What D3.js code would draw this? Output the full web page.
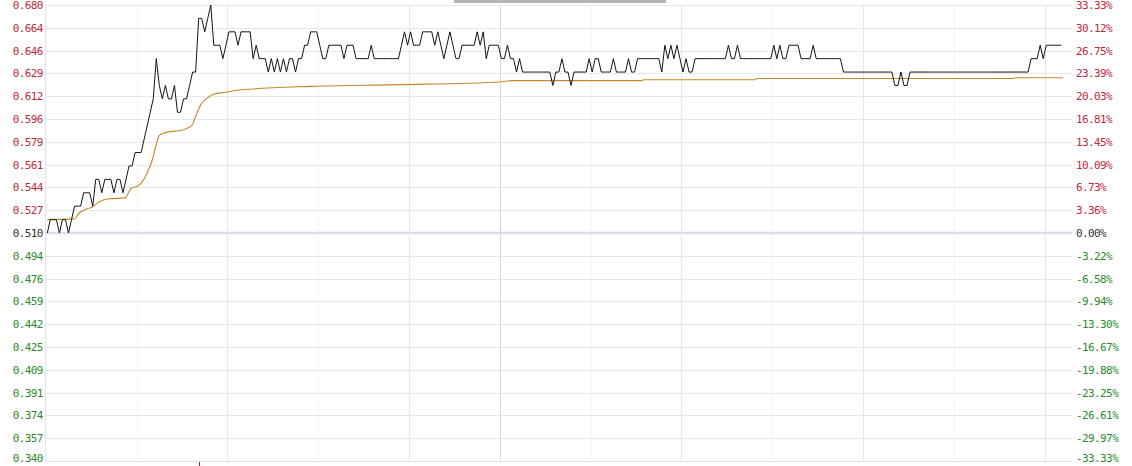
<!DOCTYPE html>
<html><head><meta charset="utf-8">
<script src="https://cdn.jsdelivr.net/npm/d3@7/dist/d3.min.js"></script>
<style>html,body{margin:0;padding:0;background:#fff;overflow:hidden}</style>
</head><body><svg id="c" width="1132" height="466"></svg>
<script>
// ---- data ----
const prevClose = 0.51;
// minute prices (index = minute of the session)
const prices = [
 0.51,0.52,0.52,0.52,0.51,0.52,0.52,0.51,0.52,0.53,0.53,0.53,0.54,0.54,0.54,0.53,0.55,0.55,0.54,0.55,
 0.55,0.55,0.54,0.55,0.55,0.54,0.55,0.56,0.56,0.57,0.57,0.57,0.58,0.59,0.60,0.61,
 0.64,0.62,0.61,0.62,0.61,0.61,0.62,0.60,0.60,0.61,0.61,0.62,0.63,0.63,0.67,0.67,0.66,0.67,0.68,0.65,0.65,0.65,0.64,0.65,
 0.66,0.66,0.66,0.65,0.66,0.66,0.66,0.66,0.64,0.65, 0.64,0.64,0.64,0.63,0.64,0.63,0.64,0.63,0.64,0.63,
 0.64,0.64,0.63,0.64,0.64,0.65,0.65,0.66,0.66,0.66, 0.65,0.64,0.64,0.65,0.65,0.65,0.65,0.65,0.64,0.65,
 0.65,0.65,0.64,0.64,0.64,0.64,0.64,0.65,0.64,0.64, 0.64,0.64,0.64,0.64,0.64,0.64,0.64,0.65,0.66,0.65,
 0.66,0.65,0.65,0.65,0.66,0.66,0.66,0.66,0.65,0.66, 0.65,0.64,0.65,0.66,0.65,0.64,0.64,0.65,0.65,0.65,
 0.65,0.65,0.66,0.65,0.66,0.64,0.65,0.65,0.65,0.65, 0.64,0.64,
 0.65,0.64,0.64,0.63,0.64,0.63,0.63,0.63,0.63,0.63,0.63,0.63,0.63,0.63,0.63,
 0.62,0.63,0.63,0.64,0.63,0.63,0.62,0.63,0.63,0.63, 0.63,0.63,0.64,0.63,0.64,0.64,0.63,0.63,0.63,0.63,
 0.64,0.63,0.63,0.63,0.63,0.64,0.63,0.63,0.64,0.64, 0.64,0.64,0.64,0.64,0.64,0.64,0.63,0.65,0.64,0.65,
 0.64,0.65,0.64,0.63,0.64,0.63,0.63,0.64,0.64,0.64, 0.64,0.64,0.64,0.64,0.64,0.64,0.64,
 0.64,0.65,0.64,0.64,0.65,0.64,0.64,0.64,0.64,0.64, 0.64,0.64,0.64,0.64,0.64,0.64,0.65,0.64,0.65,0.64,
 0.64,0.65,0.65,0.65,0.65,0.64,0.64,0.64,0.64,0.65, 0.64,0.64,0.64,0.64,0.64,0.64,0.64,0.64,0.64,0.63,
 0.63,0.63,0.63,0.63,0.63,0.63,0.63,0.63, 0.63,0.63,0.63,0.63,0.63,0.63,0.63,0.63,
 0.62,0.62,0.63,0.62,0.62,0.63,
 0.63,0.63,0.63,0.63,0.63,0.63,0.63,0.63, 0.63,0.63,0.63,0.63,0.63,0.63,0.63,0.63,
 0.63,0.63,0.63,0.63,0.63,0.63,0.63,0.63, 0.63,0.63,0.63,0.63,0.63,0.63,0.63,0.63,
 0.63,0.63,0.63,0.63,0.63,0.63,
 0.63,0.64,0.64,0.64,0.65,0.64,0.65,0.65,0.65,0.65,0.65,0.65
];
// average price line, read at these minutes
const avgT = [0,8.8,10.5,12.1,14.9,17.1,19.3,21.5,25.9,27,28.1,29.7,31.4,33,34.7,35.8,36.9,38.5,40.8,43.5,46.3,47.9,49,50.7,52.9,55.1,58.4,61.7,68,86.8,115.5,149.6,153.4,196.4,197,233.8,234.4,319.1,320.2,335.6];
const avgV = [0.5200,0.5205,0.5249,0.5272,0.5294,0.5332,0.5352,0.5356,0.5364,0.5409,0.5439,0.5446,0.5483,0.5548,0.5646,0.5745,0.5825,0.5845,0.5857,0.5862,0.5882,0.5907,0.5969,0.6057,0.6107,0.6136,0.6148,0.6161,0.6174,0.6193,0.6206,0.6226,0.6236,0.6236,0.6243,0.6243,0.6252,0.6252,0.6258,0.6258];
const tickValues = [0.680,0.663,0.646,0.629,0.612,0.595,0.578,0.561,0.544,0.527,0.510,0.493,0.476,0.459,0.442,0.425,0.408,0.391,0.374,0.357,0.340];
const leftLabels = ["0.680","0.664","0.646","0.629","0.612","0.596","0.579","0.561","0.544","0.527","0.510","0.494","0.476","0.459","0.442","0.425","0.409","0.391","0.374","0.357","0.340"];
const rightLabels = ["33.33%","30.12%","26.75%","23.39%","20.03%","16.81%","13.45%","10.09%","6.73%","3.36%","0.00%","-3.22%","-6.58%","-9.94%","-13.30%","-16.67%","-19.88%","-23.25%","-26.61%","-29.97%","-33.33%"];
const gridMinutes = [30,60,90,120,150,180,210,240,270,300,330];
const solidGridMinutes = [60,120,150,210,270,330];
const middayMinute = 150;
const volumeSpikeMinutes = [50];

// ---- drawing ----
const svg = d3.select('#c');
const x = d3.scaleLinear().domain([0,340]).range([45.8,1075]);
const y = d3.scaleLinear().domain([0.34,0.68]).range([461,5]);
const xL = 45.8, xR = 1072;
const red = "#c0283c", green = "#2b8a2b", neutral = "#333";
const colorOf = v => Math.abs(v - prevClose) < 1e-9 ? neutral : (v > prevClose ? red : green);
const snap = v => Math.round(v) + 0.5;
const yMin = d3.min(tickValues);

// top grey bar
svg.append('rect').attr('x',454).attr('y',0).attr('width',212).attr('height',3).attr('fill','#b4b4b4');

// horizontal grid
svg.append('g').selectAll('line').data(tickValues.filter(v=>Math.abs(v-prevClose)>1e-9)).join('line')
  .attr('x1',xL).attr('x2',xR)
  .attr('y1',d=>snap(y(d))).attr('y2',d=>snap(y(d)))
  .attr('stroke','#e8e8ec').attr('stroke-width',1);

// vertical grid
svg.append('g').selectAll('line').data(gridMinutes).join('line')
  .attr('x1',d=>snap(x(d))).attr('x2',d=>snap(x(d)))
  .attr('y1',y(0.68)).attr('y2',y(0.34))
  .attr('stroke',d=> d===middayMinute ? '#d6d8e4' : (solidGridMinutes.includes(d) ? '#e6e6ee' : '#ececf0'))
  .attr('stroke-dasharray',d=> solidGridMinutes.includes(d) ? null : '2,2')
  .attr('stroke-width',1);

// left border
svg.append('line').attr('x1',snap(xL)-1).attr('x2',snap(xL)-1).attr('y1',y(0.68)).attr('y2',y(0.34))
  .attr('stroke','#e2e2ea');
// bottom line
svg.append('line').attr('x1',xL).attr('x2',xR).attr('y1',snap(y(0.34))).attr('y2',snap(y(0.34)))
  .attr('stroke','#dedee8');
// zero line
svg.append('line').attr('x1',xL).attr('x2',xR).attr('y1',y(prevClose)).attr('y2',y(prevClose))
  .attr('stroke','#dcdde9').attr('stroke-width',2.5);

// axes
const fontCss = 'font-family:"DejaVu Sans Mono",monospace;font-size:11px;letter-spacing:-0.6px';
const la = svg.append('g').attr('transform',`translate(${xL},0)`)
  .call(d3.axisLeft(y).tickValues(tickValues).tickSize(0).tickPadding(3).tickFormat((d,i)=>leftLabels[i]));
la.select('.domain').remove();
la.selectAll('text').attr('style',fontCss).attr('fill',d=>colorOf(d))
  .attr('dy',d=> d===yMin ? '0.05em' : '0.32em');
const ra = svg.append('g').attr('transform',`translate(${xR+1},0)`)
  .call(d3.axisRight(y).tickValues(tickValues).tickSize(0).tickPadding(3).tickFormat((d,i)=>rightLabels[i]));
ra.select('.domain').remove();
ra.selectAll('text').attr('style',fontCss).attr('fill',d=>colorOf(d))
  .attr('dy',d=> d===yMin ? '0.05em' : '0.32em');

// average line
const avgData = avgT.map((t,i)=>[t,avgV[i]]);
svg.append('path').datum(avgData)
  .attr('fill','none').attr('stroke','#c08a2c').attr('stroke-width',1.1)
  .attr('d', d3.line().x(d=>x(d[0]+0.5)).y(d=>y(d[1])).curve(d3.curveMonotoneX));

// price line
svg.append('path').datum(prices)
  .attr('fill','none').attr('stroke','#141414').attr('stroke-width',1)
  .attr('d', d3.line().x((d,i)=>x(i+0.5)).y(d=>y(d)));

// volume spike peeking at the bottom
svg.append('g').selectAll('line').data(volumeSpikeMinutes).join('line')
  .attr('x1',d=>snap(x(d+0.5))).attr('x2',d=>snap(x(d+0.5)))
  .attr('y1',y(0.34)+1).attr('y2',466)
  .attr('stroke','#d01818').attr('stroke-width',1);
</script></body></html>
